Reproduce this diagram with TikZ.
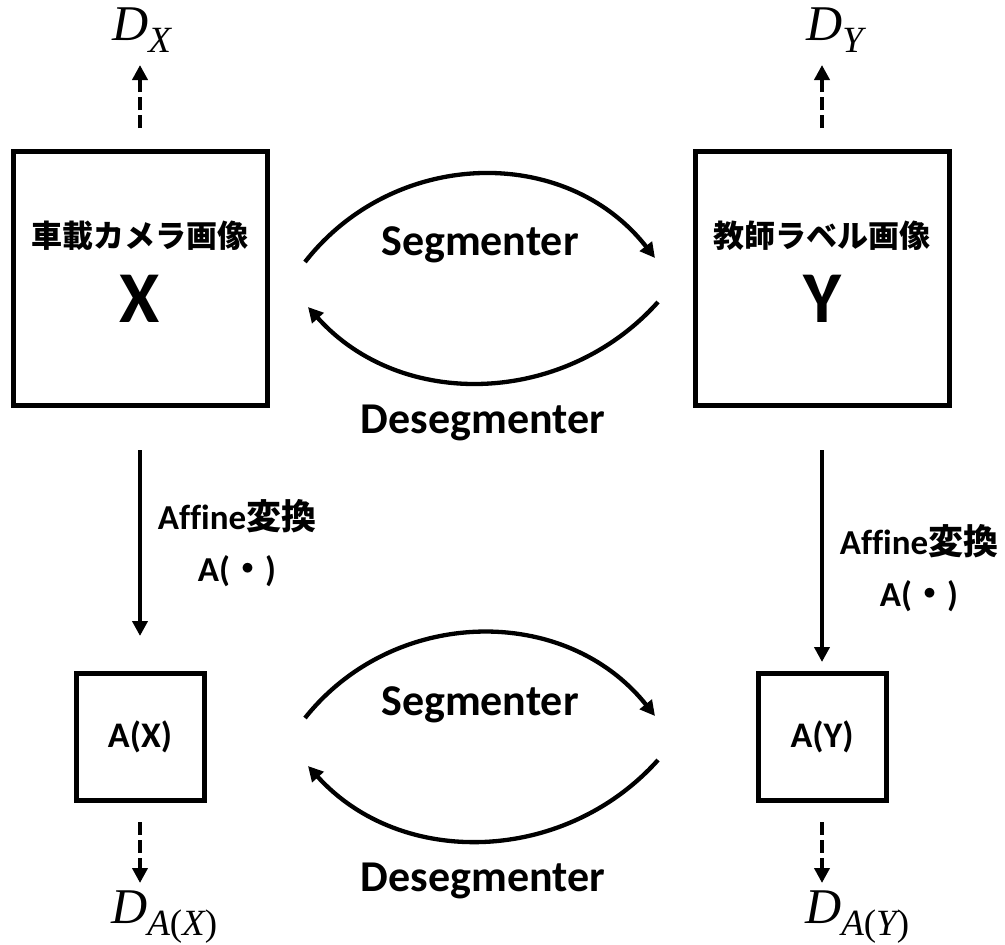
\documentclass[tikz,border=0pt]{standalone}
\usepackage{fontspec}
\setmainfont{Carlito}[Ligatures=NoCommon]
\newfontfamily\jp{Noto Sans CJK JP}
\newfontfamily\ser{Liberation Serif}
\usetikzlibrary{arrows.meta}
\newcommand{\dsub}[2]{{\ser\itshape\fontsize{50}{50}\selectfont #1\raisebox{-12pt}{\fontsize{37}{37}\selectfont #2}}}
\begin{document}
\begin{tikzpicture}[x=1pt,y=-1pt,
  bigbox/.style={draw, line width=5pt, minimum width=254pt, minimum height=254pt, inner sep=0pt, outer sep=0pt},
  smallbox/.style={draw, line width=5pt, minimum width=128pt, minimum height=127pt, inner sep=0pt, outer sep=0pt, font=\bfseries\fontsize{36}{42}\selectfont},
  flow/.style={-{Triangle[length=15pt,width=15pt]}, line width=4.3pt},
  dflow/.style={flow, dash pattern=on 13pt off 5pt},
  loopflow/.style={-{Triangle[length=15pt,width=15pt]}, line width=4.3pt},
  lbl/.style={font=\bfseries\fontsize{44}{50}\selectfont, inner sep=0pt, anchor=base},
  jpl/.style={font=\jp\bfseries\fontsize{31}{36}\selectfont, inner sep=0pt},
  bigl/.style={font=\bfseries\fontsize{73}{80}\selectfont, inner sep=0pt, anchor=base},
  aff/.style={font=\bfseries\fontsize{35}{52}\selectfont, align=center, inner sep=0pt},
  dn/.style={inner sep=0pt, anchor=base west}
]
\useasboundingbox (0,0) rectangle (1005,945);
% boxes
\node[bigbox] (bx) at (140,278) {};
\node[bigbox] (by) at (822,278) {};
\node[jpl] (tx) at (140,236) {車載カメラ画像};
\node[bigl] (lx) at (140,322) {X};
\node[jpl] (ty) at (822,236) {教師ラベル画像};
\node[bigl] (ly) at (822,322) {Y};
\node[smallbox] (ax) at (140,736.5) {A(X)};
\node[smallbox] (ay) at (822,736.5) {A(Y)};
% discriminator labels
\node[dn] (dx) at (112,40) {\dsub{D}{X}};
\node[dn] (dy) at (806,40) {\dsub{D}{Y}};
\node[dn] (dax) at (111,923) {\dsub{D}{A\upshape(\itshape X\upshape)}};
\node[dn] (day) at (805,923) {\dsub{D}{A\upshape(\itshape Y\upshape)}};
\coordinate (dxt) at (140,65);
\coordinate (dyt) at (822,65);
\coordinate (daxt) at (140,883);
\coordinate (dayt) at (822,883);
\draw[dflow, shorten <=23pt] (bx.north) -- (dxt);
\draw[dflow, shorten <=23pt] (by.north) -- (dyt);
\draw[dflow, shorten <=22pt] (ax.south) -- (daxt);
\draw[dflow, shorten <=22pt] (ay.south) -- (dayt);
% affine arrows
\draw[flow, shorten <=45pt, shorten >=37pt] (bx.south) -- (ax.north);
\draw[flow, shorten <=45pt, shorten >=11pt] (by.south) -- (ay.north);
\node[aff] (fx) at (237,543) {Affine{\jp 変換}\\A({\jp ・})};
\node[aff] (fy) at (919,568) {Affine{\jp 変換}\\A({\jp ・})};
% upper loop
\coordinate (s1) at (305,262);
\coordinate (e1) at (655,258);
\coordinate (s2) at (658,302);
\coordinate (e2) at (308,307);
\draw[loopflow] (s1) .. controls (394,148) and (566,144) .. (e1);
\draw[loopflow] (s2) .. controls (565,406) and (401,411) .. (e2);
\node[lbl] (sg1) at (480,255) {Segmenter};
\node[lbl] (ds1) at (483,433) {Desegmenter};
% lower loop
\coordinate (s3) at (305,718);
\coordinate (e3) at (655,716);
\coordinate (s4) at (658,760);
\coordinate (e4) at (308,766);
\draw[loopflow] (s3) .. controls (394,606) and (566,604) .. (e3);
\draw[loopflow] (s4) .. controls (565,864) and (401,869) .. (e4);
\node[lbl] (sg2) at (480,715) {Segmenter};
\node[lbl] (ds2) at (483,891) {Desegmenter};
\end{tikzpicture}
\end{document}
